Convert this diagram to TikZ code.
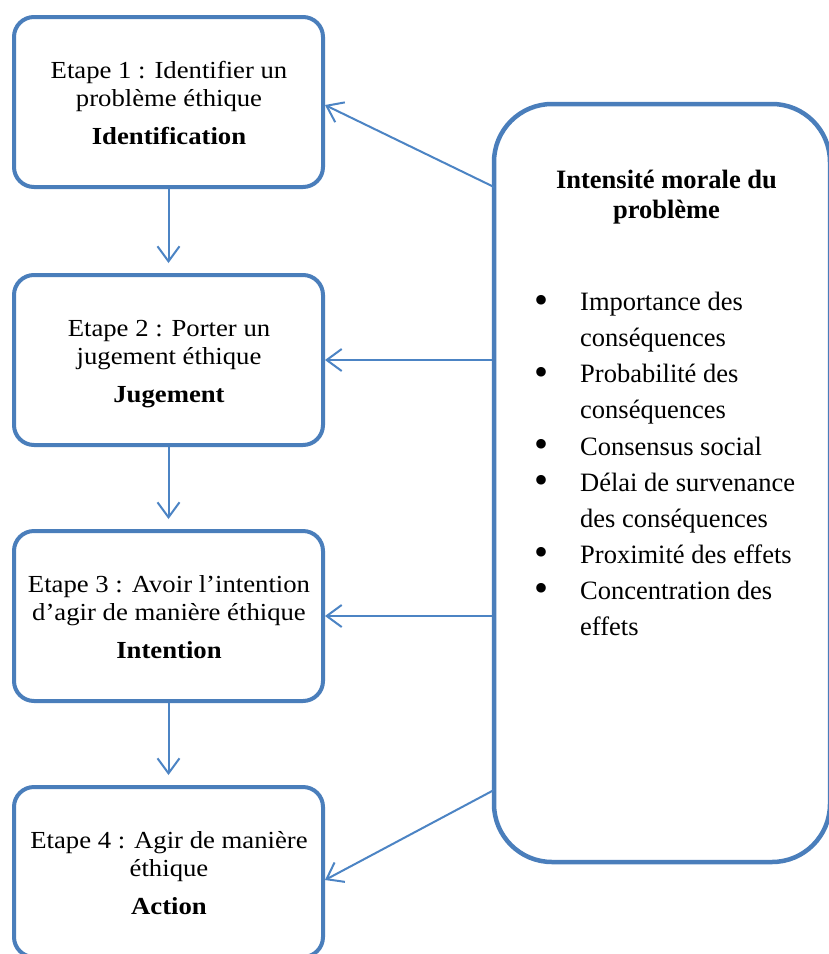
\documentclass[tikz,border=0pt]{standalone}
\usepackage{fontspec}
\setmainfont{Liberation Serif}
\newfontfamily\stepfont{Liberation Serif}[FakeStretch=1.09]
\usetikzlibrary{arrows.meta}
\definecolor{boxblue}{RGB}{74,126,187}
\definecolor{arrblue}{RGB}{76,132,196}
\newcommand{\bigdot}{\makebox[47pt][l]{\hspace*{1pt}\raisebox{-2.5pt}{\fontsize{40}{36}\selectfont•}}}
\newcommand{\noindot}{\hspace*{47pt}}
\begin{document}
\begin{tikzpicture}[x=1pt,y=-1pt,
  stepbox/.style={draw=boxblue, line width=4pt, rounded corners=20pt, fill=white,
    minimum width=309pt, minimum height=170pt, inner sep=0pt},
  steptext/.style={align=center, anchor=base, inner sep=0pt,
    font=\stepfont\fontsize{24.5}{27.5}\selectfont},
  conn/.style={draw=arrblue, line width=2pt,
    -{Straight Barb[length=15pt,width=22pt,line width=2pt]}},
  bigbox/.style={draw=boxblue, line width=4.5pt, rounded corners=58pt, fill=white,
    minimum width=336pt, minimum height=758pt, inner sep=0pt}]
\useasboundingbox (0,0) rectangle (829,954);
\fill[white] (0,0) rectangle (829,954);
% step boxes
\node[stepbox] (B1) at (168.5,102) {};
\node[stepbox] (B2) at (168.5,360) {};
\node[stepbox] (B3) at (168.5,616) {};
\node[stepbox] (B4) at (168.5,872) {};
% (base anchor of a multi-line node = baseline of its last line)
\node[steptext] (T1) at (169,144) {Etape 1 : Identifier un\\problème éthique\\[10.5pt]\textbf{Identification}};
\node[steptext] (T2) at (169,402) {Etape 2 : Porter un\\jugement éthique\\[10.5pt]\textbf{Jugement}};
\node[steptext] (T3) at (169,658) {Etape 3 : Avoir l’intention\\d’agir de manière éthique\\[10.5pt]\textbf{Intention}};
\node[steptext] (T4) at (169,914) {Etape 4 : Agir de manière\\éthique\\[10.5pt]\textbf{Action}};
% right box
\node[bigbox] (R) at (662,483) {};
\node[align=center, anchor=base, inner sep=0pt, font=\fontsize{26.5}{30}\selectfont\bfseries]
  (RT) at (666.5,218) {Intensité morale du\\problème};
\node[align=left, anchor=base west, inner sep=0pt, font=\fontsize{26.5}{36.1}\selectfont]
  (RL) at (533,635.5) {%
  \bigdot Importance des\\
  \noindot conséquences\\
  \bigdot Probabilité des\\
  \noindot conséquences\\
  \bigdot Consensus social\\
  \bigdot Délai de survenance\\
  \noindot des conséquences\\
  \bigdot Proximité des effets\\
  \bigdot Concentration des\\
  \noindot effets};
% connectors
\draw[conn, shorten >=10pt] (B1.south) -- (B2.north);
\draw[conn, shorten >=10pt] (B2.south) -- (B3.north);
\draw[conn, shorten >=10pt] (B3.south) -- (B4.north);
\coordinate (s1) at (494,187);
\coordinate (s4) at (494,790);
\draw[conn] (s1) -- ([yshift=-3pt]B1.east);
\draw[conn] (R.west |- B2.east) -- (B2.east);
\draw[conn] (R.west |- B3.east) -- (B3.east);
\draw[conn] (s4) -- ([yshift=-8pt]B4.east);
\end{tikzpicture}
\end{document}
